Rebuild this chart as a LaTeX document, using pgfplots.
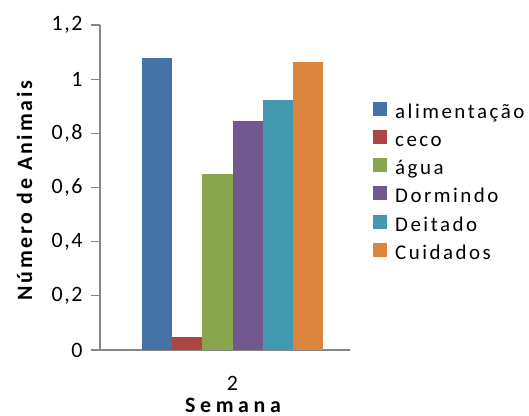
\documentclass[border=0pt]{standalone}
\usepackage{pgfplots}
\pgfplotsset{compat=1.18}
\usepackage{fontspec}
\setmainfont{Carlito}[LetterSpace=7]
\newfontfamily\legfont{Carlito}[LetterSpace=12]
\newfontfamily\boldlab{Carlito}[LetterSpace=13]
\newfontfamily\semfont{Carlito}[LetterSpace=21]
\definecolor{cA}{HTML}{4572A7}
\definecolor{cB}{HTML}{AA4643}
\definecolor{cC}{HTML}{89A54E}
\definecolor{cD}{HTML}{71588F}
\definecolor{cE}{HTML}{4198AF}
\definecolor{cF}{HTML}{DB843D}
\definecolor{axgray}{HTML}{868686}
\begin{document}
\begin{tikzpicture}
\useasboundingbox (0,0) rectangle (529bp,416bp);
\begin{axis}[
  at={(100bp,66bp)}, anchor=south west,
  scale only axis, width=250bp, height=325bp,
  xmin=-4.39, xmax=3.89, ymin=0, ymax=1.2,
  axis x line=bottom, axis y line=left,
  axis line style={-, draw=axgray, line width=1.4bp},
  ytick={0,0.2,0.4,0.6,0.8,1,1.2},
  yticklabel style={/pgf/number format/use comma, /pgf/number format/assume math mode=true, font=\fontsize{22}{24}\selectfont, xshift=-5bp},
  tick style={draw=axgray, line width=1.2bp},
  ytick pos=left, tick align=outside,
  major tick length=9bp,
  xtick={0}, xticklabels={2},
  x tick style={draw=none},
  xticklabel style={font=\fontsize{22}{24}\selectfont, anchor=north, inner sep=0.5bp, yshift=-17bp},
  xlabel={\semfont\bfseries Semana},
  xlabel style={font=\fontsize{22}{24}\selectfont, inner sep=0.5bp, at={(axis description cs:0.532,-0.1908)}, anchor=base},
  ylabel={\boldlab\bfseries Número de Animais},
  ylabel style={font=\fontsize{22}{24}\selectfont, at={(axis description cs:-0.302,0.49)}, anchor=center},
  ybar, bar width=1, bar shift=0pt,
  legend style={at={(1.092,0.765)}, anchor=north west, draw=none, fill=none,
    font=\fontsize{21}{23}\selectfont\legfont, row sep=6.8bp, column sep=8bp, inner sep=0pt,
    nodes={inner sep=0pt, text height=14bp, text depth=5bp},
    cells={anchor=west}},
  legend image code/.code={\fill[#1] (0bp,-2bp) rectangle (14bp,12bp);},
]
\addplot[fill=cA, draw=none] coordinates {(-2.5,1.078)};
\addplot[fill=cB, draw=none] coordinates {(-1.5,0.047)};
\addplot[fill=cC, draw=none] coordinates {(-0.5,0.651)};
\addplot[fill=cD, draw=none] coordinates {(0.5,0.844)};
\addplot[fill=cE, draw=none] coordinates {(1.5,0.922)};
\addplot[fill=cF, draw=none] coordinates {(2.5,1.063)};
\legend{alimentação, ceco, água, Dormindo, Deitado, Cuidados}
\end{axis}
\end{tikzpicture}
\end{document}
